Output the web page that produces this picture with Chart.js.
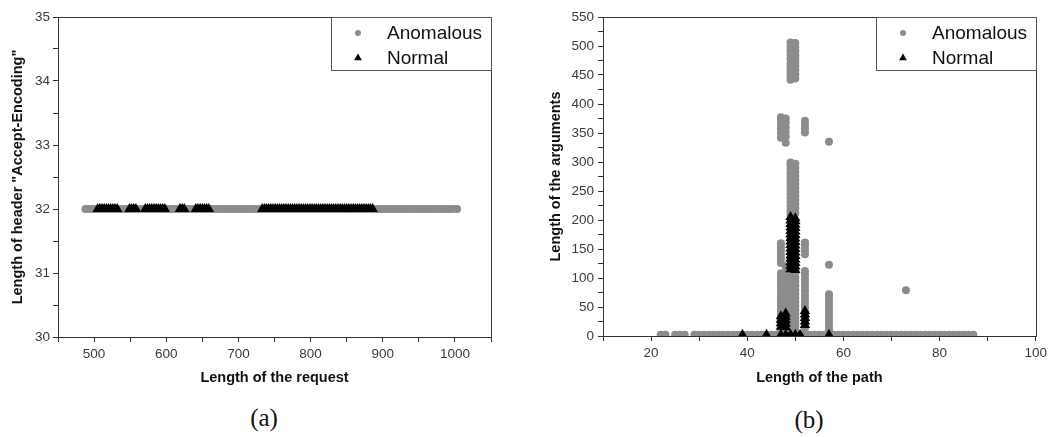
<!DOCTYPE html>
<html><head><meta charset="utf-8">
<script src="https://cdn.jsdelivr.net/npm/chart.js@4/dist/chart.umd.min.js"></script>
<style>
html,body{margin:0;padding:0;background:#fff;width:1051px;height:437px;overflow:hidden;position:relative;}
#ca{position:absolute;left:0;top:0;}
#cb{position:absolute;left:525px;top:0;}
.cap{position:absolute;font-family:"Liberation Serif","Times New Roman",serif;font-size:25px;color:#111;transform:translate(-50%,-50%);white-space:nowrap;}
</style></head><body>
<canvas id="ca" width="520" height="400"></canvas>
<canvas id="cb" width="526" height="400"></canvas>
<div class="cap" style="left:264px;top:418px">(a)</div>
<div class="cap" style="left:809px;top:420px">(b)</div>
<script>
// ---------- data ----------
const seriesNames = ['Anomalous', 'Normal'];

// (a) Length of the request vs length of header "Accept-Encoding"
const acceptEncodingLength = 32;
const requestLenAnomalous = [488,492,497,502,507,512,517,522,527,532,537,542,547,552,557,562,567,572,577,582,587,592,597,602,607,612,617,622,627,632,637,642,647,652,657,662,667,672,677,682,687,692,697,702,707,712,717,722,727,732,737,742,747,752,757,762,767,772,777,782,787,792,797,802,807,812,817,822,827,832,837,842,847,852,857,862,867,872,877,882,887,892,897,902,907,912,917,922,927,932,937,942,947,952,957,962,967,972,977,982,987,992,997,1003];
const requestLenNormal = [505,508,511,514,517,520,523,526,529,532,549,552,555,558,571,574,577,580,583,586,589,592,595,598,619,622,625,641,644,647,650,653,656,659,733,736,739,742,745,748,751,754,757,760,763,766,769,772,775,778,781,784,787,790,793,796,799,802,805,808,811,814,817,820,823,826,829,832,835,838,841,844,847,850,853,856,859,862,865,868,871,874,877,880,883,886];
const requestTickLabels = [500,600,700,800,900,1000];
const acceptTickLabels = [30,31,32,33,34,35];

// (b) Length of the path vs length of the arguments
const argsBaseline = 2;
const pathBaselineAnomalous = [22,23,25,26,27,29,30,31,32,33,34,35,36,37,38,39,40,41,42,43,44,45,46,47,48,49,50,51,52,53,54,55,56,57,58,59,60,61,62,63,64,65,66,67,68,69,70,71,72,73,74,75,76,77,78,79,80,81,82,83,84,85,86,87];
const anomalousPathCols = [47, 48, 49, 50, 52, 57, 73];
const anomalousArgsCols = [
  [4,10,17,24,31,38,45,52,59,66,73,80,87,94,101,108,126,133,140,147,154,160,342,350,357,364,371,377],
  [4,10,17,24,31,38,45,52,59,66,73,80,87,94,101,108,120,333,344,352,360,368,375],
  [4,10,17,24,31,38,45,52,59,66,73,80,87,94,101,108,210,217,224,231,238,245,252,259,266,273,280,287,294,299,442,449,456,463,470,478,485,492,499,506],
  [4,10,17,24,31,38,45,52,59,66,73,80,87,94,101,108,212,220,227,234,241,248,255,262,269,276,283,290,297,444,451,458,465,471,477,484,491,498,505],
  [14,21,28,35,42,49,56,63,70,77,84,91,98,105,112,141,148,155,161,351,358,365,371],
  [4,11,18,25,32,39,46,53,60,67,72,123,335],
  [79]
];
const pathBaselineNormal = [39,44,47,48,49,50,51,57];
const normalPathCols = [47, 48, 49, 50, 52];
const normalArgsCols = [
  [16,22,28,34],
  [15,21,27,33,39],
  [115,121,127,133,139,145,151,157,163,169,175,181,187,193,199,205],
  [114,120,126,132,138,144,150,156,162,168,174,180,186,192,198,203],
  [19,25,31,37,43]
];
const pathTickLabels = [20,40,60,80,100];
const argsTickLabels = [0,50,100,150,200,250,300,350,400,450,500,550];

// ---------- helpers ----------
const FONT = '"Liberation Sans", Arial, sans-serif';
const GRAY = '#8c8c8c';

function colPoints(xs, cols) {
  const out = [];
  xs.forEach((x, i) => cols[i].forEach(y => out.push({x, y})));
  return out;
}

function axis(o) {
  return {
    type: 'linear', position: o.pos, min: o.min, max: o.max,
    afterFit: s => { if (o.pos === 'left') s.width = o.size; else s.height = o.size; },
    border: {display: true, color: '#333', width: 1},
    grid: {display: true, drawOnChartArea: false, drawTicks: true, tickLength: 5, tickColor: '#333', lineWidth: 1},
    ticks: {stepSize: o.step, autoSkip: false, maxRotation: 0, color: '#3a3a3a',
      font: {family: FONT, size: 13.5}, padding: o.pad,
      callback: v => o.labels.includes(v) ? String(v) : ''},
    title: {display: true, text: o.title, color: '#111',
      font: {family: FONT, size: 14.5, weight: 'bold'},
      padding: {top: o.tpad, bottom: o.tpad}}
  };
}

const framePlugin = {
  id: 'frame',
  afterDatasetsDraw(chart) {
    const {ctx, chartArea: a} = chart;
    ctx.save();
    ctx.strokeStyle = '#333'; ctx.lineWidth = 1;
    ctx.strokeRect(Math.round(a.left) + 0.5, Math.round(a.top) + 0.5, Math.round(a.right - a.left), Math.round(a.bottom - a.top));
    ctx.restore();
  }
};

const boxLegend = {
  id: 'boxLegend',
  afterDatasetsDraw(chart, args, o) {
    if (!o || !o.display) return;
    const ctx = chart.ctx, a = chart.chartArea;
    const x = Math.round(a.right - o.width), y = Math.round(a.top);
    ctx.save();
    ctx.fillStyle = '#fff';
    ctx.fillRect(x, y, o.width, o.height);
    ctx.strokeStyle = '#555'; ctx.lineWidth = 1;
    ctx.strokeRect(x + 0.5, y + 0.5, o.width, o.height);
    chart.data.datasets.forEach((ds, i) => {
      const cy = y + o.firstRow + i * o.rowGap;
      const mx = x + o.markerX;
      ctx.fillStyle = ds.backgroundColor;
      ctx.beginPath();
      if (ds.pointStyle === 'triangle') {
        const r = 4.5;
        ctx.moveTo(mx, cy - r);
        ctx.lineTo(mx + r * 0.866, cy + r * 0.5);
        ctx.lineTo(mx - r * 0.866, cy + r * 0.5);
        ctx.closePath();
      } else {
        ctx.arc(mx, cy, 3, 0, Math.PI * 2);
      }
      ctx.fill();
      ctx.fillStyle = '#111';
      ctx.font = '19px ' + FONT;
      ctx.textBaseline = 'middle'; ctx.textAlign = 'left';
      ctx.fillText(ds.label, x + o.textX, cy + 1);
    });
    ctx.restore();
  }
};

function baseOptions(xAxis, yAxis) {
  return {
    responsive: false, animation: false, devicePixelRatio: 1, events: [],
    layout: {padding: {top: 17, right: 0, left: 0, bottom: 0}},
    plugins: {legend: {display: false}, tooltip: {enabled: false},
      boxLegend: {display: true, width: 160, height: 53, markerX: 27, textX: 56, firstRow: 16, rowGap: 25}},
    scales: {x: xAxis, y: yAxis}
  };
}

// ---------- chart (a) ----------
const optA = baseOptions(
  axis({pos: 'bottom', min: 450, max: 1050, step: 50, size: 63, pad: 4, tpad: 13.3,
        labels: requestTickLabels, title: 'Length of the request'}),
  axis({pos: 'left', min: 30, max: 35, step: 0.5, size: 58, pad: 3, tpad: 8.8,
        labels: acceptTickLabels, title: 'Length of header "Accept-Encoding"'})
);
optA.layout.padding.right = 29;
new Chart(document.getElementById('ca'), {
  type: 'scatter',
  data: {datasets: [
    {label: seriesNames[0], order: 2, pointStyle: 'circle', pointRadius: 4, pointBorderWidth: 0,
     backgroundColor: GRAY, borderColor: GRAY,
     data: requestLenAnomalous.map(x => ({x, y: acceptEncodingLength}))},
    {label: seriesNames[1], order: 1, pointStyle: 'triangle', pointRadius: 6, pointBorderWidth: 0,
     backgroundColor: '#000', borderColor: '#000',
     data: requestLenNormal.map(x => ({x, y: acceptEncodingLength}))}
  ]},
  options: optA,
  plugins: [framePlugin, boxLegend]
});

// ---------- chart (b) ----------
const optB = baseOptions(
  axis({pos: 'bottom', min: 10, max: 100, step: 10, size: 64, pad: 4, tpad: 13.3,
        labels: pathTickLabels, title: 'Length of the path'}),
  axis({pos: 'left', min: 0, max: 550, step: 25, size: 78, pad: 4, tpad: 22.3,
        labels: argsTickLabels, title: 'Length of the arguments'})
);
optB.layout.padding.right = 14;
new Chart(document.getElementById('cb'), {
  type: 'scatter',
  data: {datasets: [
    {label: seriesNames[0], order: 2, pointStyle: 'circle', pointRadius: 4, pointBorderWidth: 0,
     backgroundColor: GRAY, borderColor: GRAY,
     data: pathBaselineAnomalous.map(x => ({x, y: argsBaseline})).concat(colPoints(anomalousPathCols, anomalousArgsCols))},
    {label: seriesNames[1], order: 1, pointStyle: 'triangle', pointRadius: 6, pointBorderWidth: 0,
     backgroundColor: '#000', borderColor: '#000',
     data: pathBaselineNormal.map(x => ({x, y: argsBaseline})).concat(colPoints(normalPathCols, normalArgsCols))}
  ]},
  options: optB,
  plugins: [framePlugin, boxLegend]
});
</script>
</body></html>
